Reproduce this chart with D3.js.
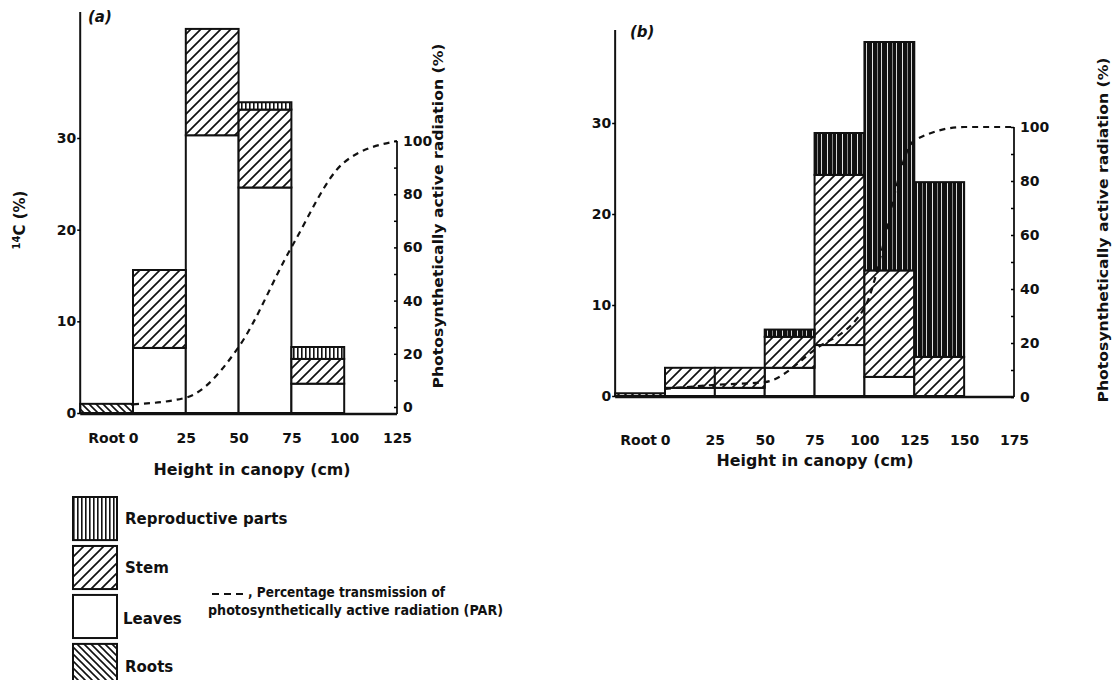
<!DOCTYPE html>
<html><head><meta charset="utf-8">
<script src="https://cdn.jsdelivr.net/npm/d3@7"></script>
<style>
body{margin:0;background:#fff;}
svg text{font-family:"DejaVu Sans","Liberation Sans",sans-serif;font-weight:700;fill:#111;}
</style></head><body>
<svg id="c" width="1117" height="680"></svg>
<script>
// ---------- data ----------
const binStartA = [-25, 0, 25, 50, 75];          // -25 = "Root"
const rootsA  = [1.0, 0, 0, 0, 0];
const leavesA = [0, 7.1, 30.3, 24.6, 3.2];
const stemA   = [0, 8.5, 11.6, 8.5, 2.7];
const reproA  = [0, 0, 0, 0.8, 1.3];
const parHeightA = [0, 25, 50, 75, 100, 125];
const parA       = [1, 3.5, 22.5, 60, 92, 100];

const binStartB = [-25, 0, 25, 50, 75, 100, 125];
const rootsB  = [0.3, 0, 0, 0, 0, 0, 0];
const leavesB = [0, 0.9, 0.9, 3.1, 5.6, 2.1, 0];
const stemB   = [0, 2.2, 2.2, 3.4, 18.7, 11.7, 4.3];
const reproB  = [0, 0, 0, 0.8, 4.6, 25.1, 19.2];
const parHeightB = [0, 25, 50, 75, 100, 125, 150, 175];
const parB       = [3, 4.5, 5.5, 17.5, 33, 95, 100, 100];

const xTicksA = [0, 25, 50, 75, 100, 125];
const xTicksB = [0, 25, 50, 75, 100, 125, 150, 175];
const yTicks = [0, 10, 20, 30];
const parTicks = [0, 10, 20, 30, 40, 50, 60, 70, 80, 90, 100];
const legendLabels = ["Reproductive parts", "Stem", "Leaves", "Roots"];
const legendKeys = ["repro", "stem", "leaves", "roots"];
const keys = ["roots", "leaves", "stem", "repro"];

// ---------- svg / patterns ----------
const svg = d3.select("#c");
const defs = svg.append("defs");

const pStem = defs.append("pattern").attr("id","stem").attr("patternUnits","userSpaceOnUse")
  .attr("width",10).attr("height",10);
pStem.append("rect").attr("width",10).attr("height",10).attr("fill","#fff");
pStem.append("path").attr("d","M-2,12 L12,-2 M-7,7 L7,-7 M3,17 L17,3")
  .attr("stroke","#111").attr("stroke-width",1.7);

const pRoots = defs.append("pattern").attr("id","roots").attr("patternUnits","userSpaceOnUse")
  .attr("width",7).attr("height",7);
pRoots.append("rect").attr("width",7).attr("height",7).attr("fill","#fff");
pRoots.append("path").attr("d","M-2,-2 L9,9 M-9,-2 L2,9 M5,-2 L16,9")
  .attr("stroke","#111").attr("stroke-width",1.6);

const pRepro = defs.append("pattern").attr("id","repro").attr("patternUnits","userSpaceOnUse")
  .attr("width",4).attr("height",10);
pRepro.append("rect").attr("width",4).attr("height",10).attr("fill","#fff");
pRepro.append("rect").attr("x",1).attr("width",1.6).attr("height",10).attr("fill","#111");

const pReproD = defs.append("pattern").attr("id","reproDark").attr("patternUnits","userSpaceOnUse")
  .attr("width",15).attr("height",40);
pReproD.append("rect").attr("width",15).attr("height",40).attr("fill","#111");
pReproD.append("rect").attr("x",2).attr("width",0.9).attr("height",40).attr("fill","#fff");
pReproD.append("rect").attr("x",7).attr("width",0.7).attr("height",40).attr("fill","#bbb");
pReproD.append("rect").attr("x",11).attr("width",0.9).attr("height",40).attr("fill","#eee");

const fills = {roots:"url(#roots)", leaves:"#fff", stem:"url(#stem)"};

function drawPanel(cfg) {
  const g = svg.append("g");
  const x = cfg.x, y = cfg.y, yp = cfg.yp;
  const base = cfg.baseline;
  const binW = 25;
  const rows = cfg.bins.map((b, i) => ({bin: b, roots: cfg.roots[i], leaves: cfg.leaves[i], stem: cfg.stem[i], repro: cfg.repro[i]}));
  const stack = d3.stack().keys(keys)(rows);

  // bars
  stack.forEach(layer => {
    const k = layer.key;
    g.append("g").selectAll("rect").data(layer.filter(d => d[1] - d[0] > 0)).join("rect")
      .attr("x", d => x(d.data.bin))
      .attr("width", d => x(d.data.bin + binW) - x(d.data.bin))
      .attr("y", d => y(d[1]))
      .attr("height", d => y(d[0]) - y(d[1]))
      .attr("fill", k === "repro" ? cfg.reproFill : fills[k])
      .attr("stroke", "#111").attr("stroke-width", 2);
  });

  // PAR line
  const line = d3.line().x(d => x(d[0])).y(d => yp(d[1])).curve(d3.curveMonotoneX);
  g.append("path").datum(cfg.parH.map((h, i) => [h, cfg.par[i]]))
    .attr("d", line).attr("fill", "none").attr("stroke", "#111")
    .attr("stroke-width", 2.2).attr("stroke-dasharray", "6,5");

  // left axis
  const xl = x(-25);
  g.append("line").attr("x1", xl).attr("x2", xl).attr("y1", cfg.leftTop).attr("y2", base)
    .attr("stroke", "#111").attr("stroke-width", 2);
  const la = g.append("g").attr("transform", `translate(${xl},0)`)
    .call(d3.axisLeft(y).tickValues(yTicks).tickSize(3).tickPadding(1));
  la.select(".domain").remove();
  la.selectAll("text").style("font-size", "14px");
  la.selectAll("line").attr("stroke-width", 1.5);

  // bottom axis line
  const xr = x(cfg.xMax);
  g.append("line").attr("x1", xl).attr("x2", xr).attr("y1", base).attr("y2", base)
    .attr("stroke", "#111").attr("stroke-width", 2.5);
  const ba = g.append("g").attr("transform", `translate(0,${cfg.xLabelY})`)
    .call(d3.axisBottom(x).tickValues(cfg.xTicks).tickSize(0).tickPadding(0));
  ba.select(".domain").remove();
  ba.selectAll("text").style("font-size", "14px").attr("dy", "0.35em");
  g.append("text").attr("x", x(0) - 8).attr("y", cfg.xLabelY).attr("dy", "0.35em")
    .attr("text-anchor", "end").style("font-size", "14px").text("Root");
  g.append("text").attr("x", cfg.xTitleX).attr("y", cfg.xTitleY).attr("dy", "0.35em")
    .attr("text-anchor", "middle").style("font-size", "15px")
    .attr("textLength", 197).attr("lengthAdjust", "spacingAndGlyphs")
    .text("Height in canopy (cm)");

  // right axis
  g.append("line").attr("x1", xr).attr("x2", xr).attr("y1", yp(100)).attr("y2", base)
    .attr("stroke", "#111").attr("stroke-width", 1.8);
  const ra = g.append("g").attr("transform", `translate(${xr},0)`)
    .call(d3.axisRight(yp).tickValues(parTicks).tickSize(3).tickPadding(3)
      .tickFormat(d => d % 20 === 0 ? d : ""));
  ra.select(".domain").remove();
  ra.selectAll("text").style("font-size", "14px");
  ra.selectAll("line").attr("x2", -3).attr("stroke-width", 1.5);
  g.append("text").attr("transform", `translate(${cfg.rTitleX},${cfg.rTitleY}) rotate(-90)`)
    .attr("dy", "0.35em").attr("text-anchor", "middle").style("font-size", "14px")
    .attr("textLength", 345).attr("lengthAdjust", "spacingAndGlyphs")
    .text("Photosynthetically active radiation (%)");

  // panel label
  g.append("text").attr("x", cfg.labX).attr("y", cfg.labY).attr("dy", "0.35em")
    .style("font-size", "15px").style("font-style", "italic").text(cfg.label);
  return g;
}

drawPanel({
  bins: binStartA, roots: rootsA, leaves: leavesA, stem: stemA, repro: reproA,
  parH: parHeightA, par: parA, xTicks: xTicksA, xMax: 125,
  x: d3.scaleLinear().domain([0, 125]).range([133, 397]),
  y: d3.scaleLinear().domain([0, 30]).range([413, 138]),
  yp: d3.scaleLinear().domain([0, 100]).range([407, 141]),
  baseline: 414, leftTop: 12, xLabelY: 438, xTitleX: 252, xTitleY: 470,
  rTitleX: 438, rTitleY: 216, labX: 88, labY: 17, label: "(a)",
  reproFill: "url(#repro)"
});

drawPanel({
  bins: binStartB, roots: rootsB, leaves: leavesB, stem: stemB, repro: reproB,
  parH: parHeightB, par: parB, xTicks: xTicksB, xMax: 175,
  x: d3.scaleLinear().domain([0, 175]).range([665, 1014]),
  y: d3.scaleLinear().domain([0, 30]).range([396, 123]),
  yp: d3.scaleLinear().domain([0, 100]).range([397, 127]),
  baseline: 397, leftTop: 30, xLabelY: 440, xTitleX: 815, xTitleY: 461,
  rTitleX: 1103, rTitleY: 230, labX: 630, labY: 32, label: "(b)",
  reproFill: "url(#reproDark)"
});

// y title for (a)
svg.append("text").attr("transform", "translate(23,220) rotate(-90)")
  .attr("dy", "0.35em").attr("text-anchor", "middle").style("font-size", "15px")
  .html('<tspan font-size="10px" dy="-0.3em">14</tspan><tspan dy="0.3em">C (%)</tspan>');

// legend
const legY = d3.scaleBand().domain(legendKeys).range([497, 687]).paddingInner(0.12);
const leg = svg.append("g");
const legFill = {repro: "url(#repro)", stem: "url(#stem)", leaves: "#fff", roots: "url(#roots)"};
leg.selectAll("rect").data(legendKeys).join("rect")
  .attr("x", 73).attr("y", k => legY(k)).attr("width", 44).attr("height", legY.bandwidth())
  .attr("fill", k => legFill[k]).attr("stroke", "#111").attr("stroke-width", 2);
leg.selectAll("text").data(legendKeys).join("text")
  .attr("x", (k) => k === "leaves" ? 123 : 125)
  .attr("y", (k, i) => legY(k) + legY.bandwidth() / 2 + (i === 2 ? 2 : 0) + (i === 3 ? 1 : 0))
  .attr("dy", "0.35em").style("font-size", "15px")
  .text((k, i) => legendLabels[i]);

// PAR note
leg.append("line").attr("x1", 212).attr("x2", 246).attr("y1", 594).attr("y2", 594)
  .attr("stroke", "#111").attr("stroke-width", 2.2).attr("stroke-dasharray", "7,5");
leg.append("text").attr("x", 248).attr("y", 592).attr("dy", "0.35em").style("font-size", "14px")
  .attr("textLength", 197).attr("lengthAdjust", "spacingAndGlyphs")
  .text(", Percentage transmission of");
leg.append("text").attr("x", 208).attr("y", 610).attr("dy", "0.35em").style("font-size", "14px")
  .attr("textLength", 295).attr("lengthAdjust", "spacingAndGlyphs")
  .text("photosynthetically active radiation (PAR)");
</script>
</body></html>
